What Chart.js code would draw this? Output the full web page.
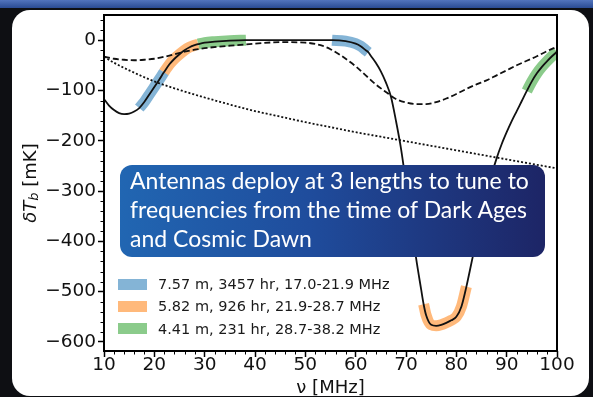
<!DOCTYPE html>
<html>
<head>
<meta charset="utf-8">
<script src="https://cdn.jsdelivr.net/npm/chart.js@4.4.1/dist/chart.umd.min.js"></script>
<style>
  html, body { margin: 0; padding: 0; }
  body { width: 593px; height: 397px; background: #0e0f13; position: relative; overflow: hidden; font-family: 'DejaVu Sans', sans-serif; }
  .topbar { position: absolute; left: 0; top: 0; width: 593px; height: 8px; background: linear-gradient(180deg, #5274bd, #2a4b93); }
  .panel { position: absolute; left: 12px; top: 10px; width: 577px; height: 386px; background: #fff; border-radius: 18px; }
  .wrap { position: absolute; left: 0; top: 0; width: 593px; height: 397px; }
  .note {
    position: absolute; left: 120px; top: 165px; width: 425px; height: 92px; box-sizing: border-box;
    padding: 1px 0 0 10px; border-radius: 12px;
    background: linear-gradient(90deg, #2166b2 0%, #1f4c9c 45%, #1d2566 100%);
    color: #fff; font-family: Lato, 'Open Sans', sans-serif; font-size: 23px; line-height: 29px;
  }
  .legend { position: absolute; left: 118px; top: 273px; font-size: 14.5px; color: #1a1a1a; }
  .legend .row { height: 22.3px; display: flex; align-items: center; }
  .legend .patch { width: 29px; height: 11px; margin-right: 11px; }
</style>
</head>
<body>
<div class="topbar"></div>
<div class="panel"></div>
<div class="wrap"><canvas id="tb"></canvas></div>
<div class="note">Antennas deploy at 3 lengths to tune to<br>frequencies from the time of Dark Ages<br>and Cosmic Dawn</div>
<div class="legend" id="legend"></div>
<script>
// signal curve (solid)
const nuSignal = [10, 11, 12, 13, 14, 15, 16, 17, 18, 19, 20, 21, 21.9, 23, 24, 25, 26, 27, 28, 28.7, 30, 32, 35, 38.2, 40, 45, 50, 55.3, 58, 60, 61, 62, 62.5,
  63, 64, 65, 66, 67, 68, 69, 70, 71, 72, 73, 73.5, 74, 75, 76, 77, 78, 79, 80, 81, 82, 83, 84, 85, 86, 87, 88, 89, 90, 91, 92, 93, 94, 95, 96, 97, 98, 99, 100];
const tbSignal = [-117, -130, -139, -145, -147, -146, -142, -135, -123, -108, -93, -78, -64, -48, -37, -28, -20, -14, -10, -8, -5, -3, -1, 0, 0, 0, 0, 0, -2, -7, -12, -20, -24,
  -31, -45, -62, -84, -112, -160, -215, -285, -360, -433, -495, -525, -547, -566, -568, -566, -562, -557, -550, -530, -490, -443, -396, -350, -308, -268, -235, -207, -183, -161, -141, -121, -101, -82, -66, -53, -42, -32, -23];

// dashed curve
const nuDashed = [10, 12, 14, 16, 18, 20, 22, 24, 26, 28, 30, 35, 40, 45, 50, 53, 55, 57, 60, 62, 64, 66, 68, 70, 72, 74, 76, 78, 80, 82, 84, 86, 88, 90, 92, 94, 96, 98, 100];
const tbDashed = [-33, -37, -39, -40, -39, -37, -33, -28, -23, -19, -16, -11, -7, -4, -5, -10, -18, -30, -52, -70, -88, -103, -117, -124, -127, -127, -123, -116, -107, -97, -88, -80, -70, -60, -50, -41, -32, -22, -13];

// dotted curve
const nuDotted = [10, 12, 15, 20, 25, 30, 35, 40, 45, 50, 55, 60, 65, 70, 75, 80, 85, 90, 95, 100];
const tbDotted = [-33, -45, -60, -82, -99, -114, -128, -141, -152, -163, -173, -183, -192, -201, -210, -219, -228, -237, -246, -255];

// antenna bands: [from, to] MHz ranges along the signal curve
const bandLabels = ['7.57 m, 3457 hr, 17.0-21.9 MHz', '5.82 m, 926 hr, 21.9-28.7 MHz', '4.41 m, 231 hr, 28.7-38.2 MHz'];
const bandColors = ['rgba(31,119,180,0.55)', 'rgba(255,127,14,0.55)', 'rgba(44,160,44,0.55)'];
const bandRanges = [
  [[17.0, 21.9], [55.3, 62.5]],
  [[21.9, 28.7], [73.5, 82]],
  [[28.7, 38.2], [94, 100]]
];

const xTicks = [10, 20, 30, 40, 50, 60, 70, 80, 90, 100];
const yTicks = [-600, -500, -400, -300, -200, -100, 0];

const pts = (xs, ys) => xs.map((x, i) => ({ x: x, y: ys[i] }));
const signal = pts(nuSignal, tbSignal);

const datasets = [
  { data: signal, borderColor: '#111', borderWidth: 1.8, order: 0 },
  { data: pts(nuDashed, tbDashed), borderColor: '#111', borderWidth: 1.8, borderDash: [6, 3], order: 0 },
  { data: pts(nuDotted, tbDotted), borderColor: '#111', borderWidth: 1.8, borderDash: [2, 2], order: 0 }
];
bandRanges.forEach((ranges, i) => {
  ranges.forEach(r => {
    datasets.push({
      data: signal.filter(p => p.x >= r[0] && p.x <= r[1]),
      borderColor: bandColors[i],
      borderWidth: 11,
      borderCapStyle: 'butt',
      clip: 0,
      order: 1
    });
  });
});

// legend
const legend = document.getElementById('legend');
bandLabels.forEach((lab, i) => {
  const row = document.createElement('div');
  row.className = 'row';
  row.innerHTML = '<span class="patch" style="background:' + bandColors[i] + '"></span><span>' + lab + '</span>';
  legend.appendChild(row);
});

const frame = {
  id: 'frame',
  afterDraw(chart) {
    const ctx = chart.ctx, a = chart.chartArea;
    const xs = chart.scales.x, ys = chart.scales.y;
    ctx.save();
    ctx.strokeStyle = '#000';
    ctx.lineWidth = 2;
    ctx.strokeRect(a.left, a.top, a.right - a.left, a.bottom - a.top);
    // minor ticks
    ctx.lineWidth = 1;
    ctx.beginPath();
    for (let v = 12; v < 100; v += 2) {
      if (v % 10 === 0) continue;
      const px = Math.round(xs.getPixelForValue(v)) + 0.5;
      ctx.moveTo(px, a.bottom);
      ctx.lineTo(px, a.bottom + 3.5);
    }
    for (let v = -600; v <= 40; v += 20) {
      if (v % 100 === 0) continue;
      const py = Math.round(ys.getPixelForValue(v)) + 0.5;
      ctx.moveTo(a.left, py);
      ctx.lineTo(a.left - 3.5, py);
    }
    ctx.stroke();

    // y axis title with subscript
    const parts = [
      { t: '\u03b4T', f: 'italic 18px "DejaVu Sans"', dy: 0 },
      { t: 'b', f: 'italic 13px "DejaVu Sans"', dy: 4 },
      { t: ' [mK]', f: '18px "DejaVu Sans"', dy: 0 }
    ];
    let w = 0;
    parts.forEach(p => { ctx.font = p.f; p.w = ctx.measureText(p.t).width; w += p.w; });
    ctx.translate(31, (a.top + a.bottom) / 2);
    ctx.rotate(-Math.PI / 2);
    ctx.fillStyle = '#111';
    ctx.textBaseline = 'middle';
    let x0 = -w / 2;
    parts.forEach(p => { ctx.font = p.f; ctx.fillText(p.t, x0, p.dy); x0 += p.w; });
    ctx.restore();
  }
};

const tickFont = { family: 'DejaVu Sans', size: 18.5 };

new Chart(document.getElementById('tb'), {
  type: 'line',
  data: { datasets: datasets },
  options: {
    responsive: true,
    maintainAspectRatio: false,
    animation: false,
    layout: { padding: { left: 0, top: 15, right: 36, bottom: 0 } },
    elements: { point: { radius: 0 }, line: { cubicInterpolationMode: 'monotone', fill: false } },
    plugins: { legend: { display: false }, tooltip: { enabled: false } },
    scales: {
      x: {
        type: 'linear', min: 10, max: 100,
        afterBuildTicks: s => { s.ticks = xTicks.map(v => ({ value: v })); },
        afterFit: s => { s.height = 46; },
        grid: { drawOnChartArea: false, tickLength: 6, tickWidth: 1.5, tickColor: '#000' },
        border: { display: false },
        ticks: { font: tickFont, color: '#111', padding: -3, maxRotation: 0, autoSkip: false },
        title: { display: true, text: '\u03bd [MHz]', font: { family: 'DejaVu Sans', size: 18 }, color: '#111', padding: { top: 0, bottom: -2 } }
      },
      y: {
        type: 'linear', min: -618, max: 50,
        afterBuildTicks: s => { s.ticks = yTicks.map(v => ({ value: v })); },
        afterFit: s => { s.width = 104; },
        grid: { drawOnChartArea: false, tickLength: 6, tickWidth: 1.5, tickColor: '#000' },
        border: { display: false },
        ticks: { font: tickFont, color: '#111', padding: 2, callback: v => v < 0 ? '\u2212' + Math.abs(v) : String(v) }
      }
    }
  },
  plugins: [frame]
});
</script>
</body>
</html>
